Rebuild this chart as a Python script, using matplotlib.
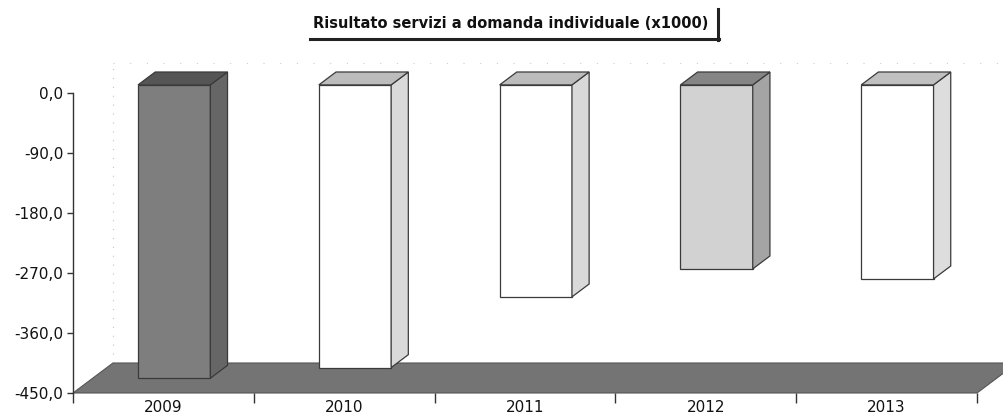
import matplotlib
matplotlib.use("Agg")
import matplotlib.pyplot as plt
from matplotlib.patches import Polygon
from matplotlib.lines import Line2D
from matplotlib.ticker import FixedLocator

plt.rcParams["font.family"] = ["DejaVu Sans"]

# ---- data ----
years = ["2009", "2010", "2011", "2012", "2013"]
values = [-440, -424, -318, -276, -291]
y_ticks = [0, -90, -180, -270, -360, -450]
y_tick_labels = ["0,0", "-90,0", "-180,0", "-270,0", "-360,0", "-450,0"]
title = "Risultato servizi a domanda individuale (x1000)"

# face shades per bar: front, right side, top
front_colors = ["#7e7e7e", "#ffffff", "#ffffff", "#d2d2d2", "#ffffff"]
side_colors = ["#666666", "#d9d9d9", "#d9d9d9", "#a4a4a4", "#dddddd"]
top_colors = ["#555555", "#bcbcbc", "#bcbcbc", "#858585", "#c0c0c0"]
floor_color = "#747474"
edge = "#3a3a3a"

W, H = 1004, 420
fig = plt.figure(figsize=(W / 100, H / 100), dpi=100)
ax = fig.add_axes([73 / W, 27 / H, 904 / W, 330 / H])
Y_MIN, Y_MAX = -450, 45
ax.set_xlim(-0.5, len(years) - 0.5)
ax.set_ylim(Y_MIN, Y_MAX)

# pseudo-3D depth: full-depth shift in data units, bar front/back depth fractions
DX, DY = 0.221, 45
F1, F2 = 0.27, 0.70
BAR_W = 0.40

# back wall edges (faint)
x0, x1 = -0.5, len(years) - 0.5
ax.plot([x0 + DX, x0 + DX], [Y_MIN + DY, 0 + DY], color="#c4c4c4", lw=0.8,
        ls=(0, (1, 7)), clip_on=False, zorder=0)
ax.plot([x0 + DX, x1 + DX], [DY, DY], color="#cccccc", lw=0.8,
        ls=(0, (1, 14)), clip_on=False, zorder=0)

# floor slab
floor = Polygon([(x0, Y_MIN), (x1, Y_MIN), (x1 + DX, Y_MIN + DY), (x0 + DX, Y_MIN + DY)],
                closed=True, facecolor=floor_color, edgecolor="#555555", lw=0.8,
                clip_on=False, zorder=1)
ax.add_patch(floor)

# bars: front face via ax.bar, side and top faces as parallelograms
o1, o2 = F1 * DY, F2 * DY
ddx = (F2 - F1) * DX
for i, v in enumerate(values):
    xc = i + F1 * DX
    ax.bar(xc, v, bottom=o1, width=BAR_W, color=front_colors[i], edgecolor=edge,
           linewidth=0.9, zorder=3, clip_on=False)
    xl, xr = xc - BAR_W / 2, xc + BAR_W / 2
    side = Polygon([(xr, v + o1), (xr, o1), (xr + ddx, o2), (xr + ddx, v + o2)],
                   closed=True, facecolor=side_colors[i], edgecolor=edge, lw=0.9,
                   clip_on=False, zorder=3)
    top = Polygon([(xl, o1), (xr, o1), (xr + ddx, o2), (xl + ddx, o2)],
                  closed=True, facecolor=top_colors[i], edgecolor=edge, lw=0.9,
                  clip_on=False, zorder=3)
    ax.add_patch(side)
    ax.add_patch(top)

# axes styling
for s in ("top", "right", "bottom"):
    ax.spines[s].set_visible(False)
ax.spines["left"].set_bounds(Y_MIN, 0)
ax.spines["left"].set_color("#333333")
ax.spines["left"].set_linewidth(1.0)

ax.set_yticks(y_ticks)
ax.set_yticklabels(y_tick_labels)
ax.tick_params(axis="y", direction="out", length=4, width=1, color="#333333",
               pad=3, labelsize=11, labelcolor="#111111")

ax.set_xticks(range(len(years)))
ax.set_xticklabels(years)
ax.xaxis.set_minor_locator(FixedLocator([b + 0.5 for b in range(-1, len(years))]))
ax.tick_params(axis="x", which="major", length=0, pad=5, labelsize=11,
               labelcolor="#111111")
ax.tick_params(axis="x", which="minor", direction="out", length=7, width=1,
               color="#333333")

# title with a shadowed frame (bottom and right edges)
fig.text(511 / W, 1 - 23 / H, title, ha="center", va="center", fontsize=10.5,
         fontweight="bold", color="#111111")
fig.add_artist(Line2D([310 / W, 719 / W], [1 - 39 / H, 1 - 39 / H], color="#222222",
                      lw=2.2, transform=fig.transFigure))
fig.add_artist(Line2D([718 / W, 718 / W], [1 - 9 / H, 1 - 40 / H], color="#222222",
                      lw=2.2, transform=fig.transFigure))

fig.savefig("out.png", dpi=100, facecolor="white")
